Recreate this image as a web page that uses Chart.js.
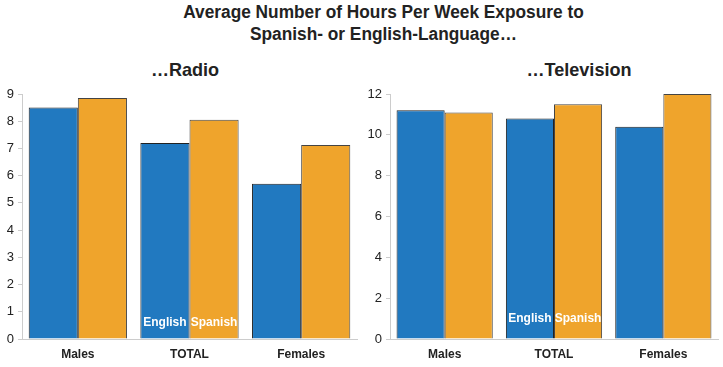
<!DOCTYPE html>
<html lang="en">
<head>
  <meta charset="UTF-8" />
  <title>Hours Per Week Exposure</title>
  <script src="https://cdn.jsdelivr.net/npm/chart.js"></script>
  <style>
    body {
      margin: 0;
      width: 723px;
      height: 367px;
      background: #fff;
      font-family: 'Liberation Sans', Arial, sans-serif;
      position: relative;
      overflow: hidden;
    }
    .title {
      position: absolute;
      left: 22px;
      width: 723px;
      top: 1px;
      text-align: center;
      font-weight: bold;
      font-size: 18px;
      line-height: 22px;
      color: #222;
      transform: scaleX(0.96);
      transform-origin: 361px 0;
    }
    .sub {
      position: absolute;
      top: 59px;
      font-weight: bold;
      font-size: 19px;
      color: #222;
      text-align: center;
      width: 200px;
      transform: scaleX(0.95);
    }
    .box { position: absolute; top: 80px; height: 287px; }
  </style>
</head>
<body>
  <div class="title">Average Number of Hours Per Week Exposure to<br>Spanish- or English-Language…</div>
  <div class="sub" style="left:85px">…Radio</div>
  <div class="sub" style="left:479px">…Television</div>

  <div class="box" style="left:0; width:360px"><canvas id="chartRadio"></canvas></div>
  <div class="box" style="left:360px; width:363px"><canvas id="chartTV"></canvas></div>

  <script>
    const categorias = ['Males', 'TOTAL', 'Females'];
    const series = ['English', 'Spanish'];
    const radioEnglish = [8.5, 7.2, 5.7];
    const radioSpanish = [8.85, 8.05, 7.13];
    const tvEnglish = [11.2, 10.8, 10.4];
    const tvSpanish = [11.1, 11.5, 12.0];
    const cores = ['#2179c0', '#efa42c'];

    // escreve "English" / "Spanish" dentro das barras do TOTAL
    const rotuloBarras = {
      id: 'rotuloBarras',
      afterDatasetsDraw(chart, args, opts) {
        const ctx = chart.ctx;
        ctx.save();
        ctx.font = 'bold 12px "Liberation Sans", Arial, sans-serif';
        ctx.fillStyle = '#fff';
        ctx.textAlign = 'center';
        ctx.textBaseline = 'middle';
        chart.data.datasets.forEach((ds, i) => {
          const bar = chart.getDatasetMeta(i).data[1];
          ctx.fillText(ds.label, bar.x, bar.base - opts.offset);
        });
        ctx.restore();
      }
    };

    function criaGrafico(id, valores1, valores2, max, passo, largY, dirPad, offset) {
      const base = { categoryPercentage: 0.88, barPercentage: 1, borderWidth: 1 };
      new Chart(document.getElementById(id), {
        type: 'bar',
        data: {
          labels: categorias,
          datasets: [
            { ...base, label: series[0], data: valores1, backgroundColor: cores[0], borderColor: '#222' },
            { ...base, label: series[1], data: valores2, backgroundColor: cores[1], borderColor: '#444' }
          ]
        },
        options: {
          responsive: true,
          maintainAspectRatio: false,
          animation: false,
          layout: { padding: { top: 14, right: dirPad, left: 0, bottom: 0 } },
          scales: {
            x: {
              grid: { display: false, drawTicks: false },
              border: { color: '#ccc', width: 1 },
              ticks: { color: '#222', font: { weight: 'bold', size: 12, family: 'Liberation Sans' }, padding: 8 },
              afterFit: s => { s.height = 28; }
            },
            y: {
              min: 0,
              max: max,
              ticks: { stepSize: passo, color: '#222', font: { size: 13, family: 'Liberation Sans' }, padding: 4 },
              grid: { display: true, drawOnChartArea: false, tickLength: 4, color: '#ccc' },
              border: { color: '#ccc', width: 1 },
              afterFit: s => { s.width = largY; }
            }
          },
          plugins: {
            legend: { display: false },
            tooltip: { enabled: false },
            rotuloBarras: { offset: offset }
          }
        },
        plugins: [rotuloBarras]
      });
    }

    criaGrafico('chartRadio', radioEnglish, radioSpanish, 9, 1, 22, 3, 16);
    criaGrafico('chartTV', tvEnglish, tvSpanish, 12, 2, 30, 5, 20);
  </script>
</body>
</html>
